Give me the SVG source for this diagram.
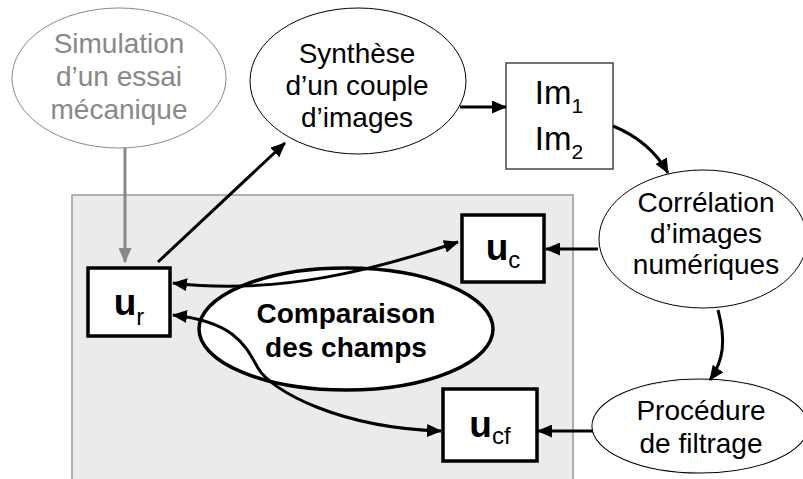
<svg xmlns="http://www.w3.org/2000/svg" width="803" height="479" viewBox="0 0 803 479">
<style>
text{font-family:"Liberation Sans",Arial,sans-serif;text-anchor:middle;fill:#000}
.t{font-size:28px}
.g{fill:#888}
.b{font-weight:bold}
.box{fill:#fff;stroke:#000;stroke-width:3.5}
.ell{fill:#fff;stroke:#000;stroke-width:1}
.c{fill:none;stroke:#000;stroke-width:3}
</style>
<defs>
<marker id="ah" markerUnits="userSpaceOnUse" markerWidth="15" markerHeight="13" refX="14" refY="6.5" orient="auto-start-reverse" viewBox="0 0 15 13">
<path d="M0,0 L15,6.5 L0,13 z" fill="#000"/>
</marker>
<marker id="ahg" markerUnits="userSpaceOnUse" markerWidth="15" markerHeight="13" refX="14" refY="6.5" orient="auto" viewBox="0 0 15 13">
<path d="M0,0 L15,6.5 L0,13 z" fill="#888"/>
</marker>
</defs>
<rect id="zone" x="72" y="195" width="501" height="300" fill="#ebebeb" stroke="#999" stroke-width="1.5"/>
<g id="simulation">
<ellipse cx="119" cy="78" rx="107" ry="70" fill="#fff" stroke="#888" stroke-width="1"/>
<text class="t g" x="119" y="53">Simulation</text>
<text class="t g" x="119" y="86">d’un essai</text>
<text class="t g" x="119" y="119">mécanique</text>
</g>
<g id="synthese">
<ellipse class="ell" cx="358" cy="81" rx="108" ry="73"/>
<text class="t" x="357" y="63">Synthèse</text>
<text class="t" x="357" y="95">d’un couple</text>
<text class="t" x="357" y="127">d’images</text>
</g>
<g id="images">
<rect x="506" y="63" width="107" height="106" fill="#fff" stroke="#444" stroke-width="1.5"/>
<text x="559" y="104" font-size="33">Im<tspan font-size="21" dy="9">1</tspan></text>
<text x="559" y="150" font-size="33">Im<tspan font-size="21" dy="9">2</tspan></text>
</g>
<g id="correlation">
<ellipse class="ell" cx="703" cy="239" rx="104" ry="69"/>
<text class="t" x="706" y="212">Corrélation</text>
<text class="t" x="706" y="243">d’images</text>
<text class="t" x="706" y="274">numériques</text>
</g>
<g id="filtrage">
<ellipse cx="700" cy="426" rx="107" ry="46" fill="#fff" stroke="#000" stroke-width="3.2"/>
<ellipse cx="700" cy="426" rx="107" ry="46" fill="#fff" stroke="#fff" stroke-width="1.2"/>
<text class="t" x="701" y="420">Procédure</text>
<text class="t" x="701" y="453">de filtrage</text>
</g>
<g id="ur">
<rect class="box" x="88" y="268" width="82" height="68"/>
<text x="129" y="315"><tspan class="b" font-size="37">u</tspan><tspan font-size="24" dy="10">r</tspan></text>
</g>
<g id="uc">
<rect class="box" x="462" y="215" width="82" height="67"/>
<text x="503" y="260"><tspan class="b" font-size="37">u</tspan><tspan font-size="24" dy="8">c</tspan></text>
</g>
<g id="ucf">
<rect class="box" x="443" y="389" width="94" height="72"/>
<text x="490" y="437"><tspan class="b" font-size="37">u</tspan><tspan font-size="24" dy="7">cf</tspan></text>
</g>
<g id="comparaison">
<ellipse cx="346" cy="329" rx="147" ry="61" fill="#fff" stroke="#000" stroke-width="3.5"/>
<text class="t b" x="346" y="323">Comparaison</text>
<text class="t b" x="346" y="357">des champs</text>
</g>
<g id="connectors">
<path d="M125,148 L125,262" fill="none" stroke="#888" stroke-width="3" marker-end="url(#ahg)"/>
<path class="c" d="M158,262 L285,143" marker-end="url(#ah)"/>
<path class="c" d="M460,107 L506,107" marker-end="url(#ah)"/>
<path class="c" d="M613,126 C635,135 655,150 668,173" marker-end="url(#ah)"/>
<path class="c" d="M598,249 L546,249" marker-end="url(#ah)"/>
<path class="c" d="M718,310 C726,340 724,360 710,380" marker-end="url(#ah)"/>
<path class="c" d="M593,431 L538,431" marker-end="url(#ah)"/>
<path class="c" d="M173,283 C280,296 380,268 458,242" marker-start="url(#ah)" marker-end="url(#ah)"/>
<path class="c" d="M173,315 C235,322 245,345 258,368 C271,391 340,428 441,431" marker-start="url(#ah)" marker-end="url(#ah)"/>
</g>
</svg>
